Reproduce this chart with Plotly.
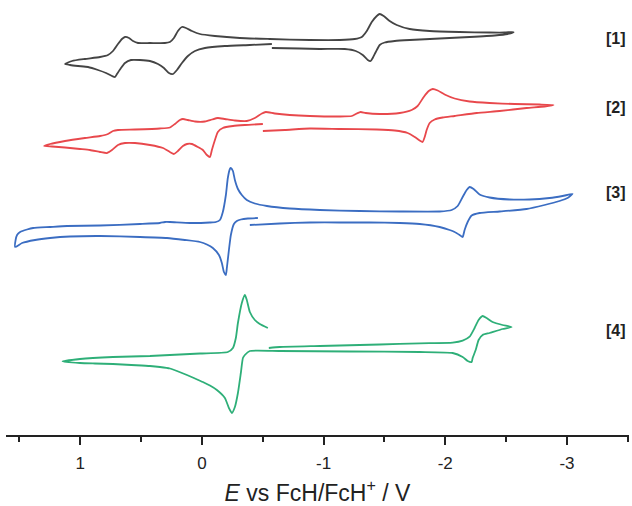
import plotly.graph_objects as go

# Cyclic voltammograms: potential E (V vs FcH/FcH+) and current (a.u.)
E1 = [-0.575, -0.394, -0.189, -0.025, 0.057, 0.115, 0.164, 0.205, 0.238, 0.271, 0.312, 0.361, 0.427, 0.509, 0.583,
      0.632, 0.665, 0.698, 0.714, 0.739, 0.788, 0.854, 0.936, 1.018, 1.084, 1.125,
      1.067, 0.961, 0.837, 0.772, 0.731, 0.690, 0.657, 0.632, 0.599, 0.566, 0.525, 0.427, 0.304, 0.263, 0.230, 0.197,
      0.164, 0.131, 0.082, 0.016, -0.107, -0.312, -0.558, -0.887, -1.133, -1.256, -1.314, -1.355, -1.396, -1.437,
      -1.461, -1.494, -1.543, -1.601, -1.708, -1.872, -2.118, -2.364, -2.488, -2.562,
      -2.512, -2.406, -2.200, -1.954, -1.708, -1.585, -1.502, -1.461, -1.429, -1.404, -1.387, -1.363, -1.322, -1.264,
      -1.174, -0.969, -0.805, -0.575]
I1 = [1, 0, -1, -3, -6, -11, -18, -25, -29, -28, -23, -19, -16, -15, -15,
      -18, -23, -29, -32, -31, -28, -25, -22, -21, -20, -19,
      -16, -14, -12, -10, -6, 1, 6, 8, 7, 4, 2, 2, 2, 3, 7, 14,
      18, 17, 14, 11, 9, 7, 6, 5, 5, 6, 8, 14, 23, 29,
      31, 29, 24, 20, 16, 14, 13, 12.5, 12.5, 13,
      11, 9.5, 8, 6.5, 5, 4, 2.5, 0, -7, -13, -16, -15, -10, -6,
      -4, -4, -3.5, -3]

E2 = [-0.501, -0.353, -0.255, -0.172, -0.131, -0.107, -0.082, -0.066, -0.041, -0.008, 0.033, 0.082, 0.123, 0.156,
      0.197, 0.230, 0.263, 0.320, 0.427, 0.550, 0.632, 0.690, 0.739, 0.780, 0.837, 0.920, 1.002, 1.125, 1.232, 1.297,
      1.248, 1.125, 0.961, 0.837, 0.772, 0.731, 0.690, 0.550, 0.345, 0.263, 0.222, 0.181, 0.156, 0.115, 0.057, -0.025,
      -0.082, -0.131, -0.189, -0.271, -0.369, -0.435, -0.493, -0.525, -0.599, -0.722, -0.887, -1.133, -1.232, -1.273,
      -1.305, -1.346, -1.461, -1.626, -1.724, -1.773, -1.823, -1.864, -1.897, -1.938, -1.995, -2.077, -2.200, -2.364,
      -2.570, -2.775, -2.890,
      -2.816, -2.668, -2.447, -2.258, -2.077, -1.979, -1.913, -1.872, -1.847, -1.831, -1.814, -1.790, -1.749, -1.691,
      -1.585, -1.437, -1.133, -0.887, -0.681, -0.501]
I2 = [1, 0, -1, -3, -7, -15, -25, -32, -30, -25, -22, -19, -19, -21,
      -26, -29, -27, -23, -20, -18, -18, -20, -25, -28, -27, -25, -24, -22.5, -21.5, -21,
      -19, -16, -13, -11, -9, -6, -5, -4.5, -3.5, -2.5, 1, 5, 6, 5, 3.5, 3.5,
      5.5, 7, 6, 4.5, 4, 7, 11.5, 13, 11.5, 10, 9, 8.5, 9, 11.5,
      13, 12, 11, 12, 15, 19, 28, 34, 36, 34.5, 30.5, 26.5, 23.5, 22,
      21, 20.5, 20,
      18.5, 17, 14, 12, 9, 7.5, 5.5, 2, -5, -12, -17, -15.5, -12, -8,
      -5.5, -4.5, -4, -3.5, -5, -6]

E3 = [-0.460, -0.378, -0.320, -0.287, -0.263, -0.238, -0.222, -0.205, -0.197, -0.181, -0.164, -0.140, -0.090,
      -0.041, 0.016, 0.140, 0.287, 0.509, 0.837, 1.084, 1.248, 1.371, 1.478, 1.535,
      1.531, 1.519, 1.494, 1.437, 1.387, 1.248, 1.108, 0.837, 0.509, 0.345, 0.304, 0.263, 0.099, -0.066, -0.115,
      -0.148, -0.172, -0.197, -0.213, -0.230, -0.238, -0.255, -0.271, -0.296, -0.328, -0.369, -0.435, -0.534,
      -0.722, -0.969, -1.297, -1.626, -1.954, -2.053, -2.102, -2.143, -2.176, -2.200, -2.233, -2.282, -2.364,
      -2.529, -2.693, -2.857, -2.964, -3.046,
      -3.005, -2.939, -2.816, -2.668, -2.447, -2.282, -2.217, -2.184, -2.159, -2.143, -2.118, -2.077, -2.036,
      -1.954, -1.790, -1.626, -1.379, -1.133, -0.887, -0.640, -0.394]
I3 = [-3, -3.5, -4.5, -6, -9, -20, -35, -53, -60, -57, -48, -40, -33,
      -29.5, -27, -25, -23, -22, -21, -21.5, -23, -25, -28, -32,
      -25, -20, -17, -14.5, -13, -12, -11, -10.5, -9, -8, -7, -7, -8, -7.5, -7,
      -5, 3, 20, 37, 46, 47, 44, 35, 26, 20, 15, 11.5, 9,
      6.5, 5, 4, 3.5, 3.5, 5, 9, 18, 25, 28, 26, 20.5, 17.5,
      15.5, 15.5, 17, 19, 21,
      17, 14, 10, 6, 3.5, 2, -0.5, -7, -15, -22, -20, -17, -15,
      -12, -9, -8, -7.5, -7.5, -7.5, -8.5, -10]

E4 = [-0.550, -0.640, -0.969, -1.461, -1.790, -2.061, -2.143, -2.200, -2.241, -2.274, -2.307, -2.340, -2.389,
      -2.471, -2.545,
      -2.471, -2.364, -2.307, -2.274, -2.250, -2.225, -2.217, -2.184, -2.143, -2.061, -1.790, -1.215, -0.640,
      -0.394, -0.353, -0.337, -0.320, -0.296, -0.271, -0.246, -0.222, -0.189, -0.123, -0.066, -0.008, 0.066, 0.123,
      0.205, 0.263, 0.345, 0.427, 0.580, 0.731, 0.880, 1.002, 1.145,
      1.002, 0.731, 0.427, 0.263, 0.016, -0.213, -0.255, -0.279, -0.296, -0.328, -0.353, -0.369, -0.394, -0.435,
      -0.476, -0.542]
I4 = [2, 3, 4, 5.5, 6.7, 7.3, 9.3, 13.3, 22, 30, 34, 32, 28,
      25, 23,
      21, 17, 15, 10, 0, -8, -12, -11, -7, -3, -2, -1.5, -1,
      -1, -5, -8, -23, -43, -57, -63, -58, -48, -40, -35.5, -32, -28, -25,
      -21, -18.5, -17, -16, -15, -14, -13.5, -13, -11.5,
      -9, -7, -6, -5, -3.5, -2, 2, 12, 27, 47, 55, 50, 38, 30,
      26, 22]

labels = ["[1]", "[2]", "[3]", "[4]"]
offsets = [390, 310, 220, 85]
label_y = [397, 328, 243, 105]
colors = ["#444444", "#E8484C", "#3B6DC2", "#2EAF78"]

tick_vals = [1, 0, -1, -2, -3]
tick_text = ["1", "0", "-1", "-2", "-3"]

fig = go.Figure()
for E, I, off, col, name in zip([E1, E2, E3, E4], [I1, I2, I3, I4], offsets, colors, labels):
    fig.add_trace(go.Scatter(
        x=E, y=[off + v for v in I], mode="lines", name=name,
        line=dict(color=col, width=1.8, shape="spline", smoothing=0.5),
        showlegend=False, hoverinfo="skip"))

for lab, ly in zip(labels, label_y):
    fig.add_annotation(x=0.998, xref="paper", y=ly, yref="y", text="<b>%s</b>" % lab,
                       showarrow=False, xanchor="right", yanchor="middle",
                       font=dict(family="Liberation Sans, Arial, sans-serif", size=16, color="#222222"))

fig.update_layout(
    width=632, height=506,
    margin=dict(l=6, r=3, t=0, b=71),
    paper_bgcolor="white", plot_bgcolor="white",
    font=dict(family="Liberation Sans, Arial, sans-serif", color="#222222"),
    xaxis=dict(
        range=[1.61, -3.51], showgrid=False, zeroline=False,
        showline=True, linecolor="#222222", linewidth=1.5,
        ticks="outside", ticklen=8, tickwidth=1.5, tickcolor="#222222",
        tickvals=tick_vals, ticktext=tick_text,
        tickfont=dict(size=17, color="#222222"), ticklabelstandoff=4,
        minor=dict(dtick=0.5, tick0=0, ticks="outside", ticklen=5, tickwidth=1.5, tickcolor="#222222"),
        title=dict(text="<i>E</i> vs FcH/FcH<sup>+</sup> / V", font=dict(size=23, color="#222222"), standoff=13),
    ),
    yaxis=dict(range=[0, 435], visible=False, showgrid=False, zeroline=False),
)

fig.write_html("out.html", config={"displayModeBar": False},
               post_script="document.body.style.margin='0px';")
